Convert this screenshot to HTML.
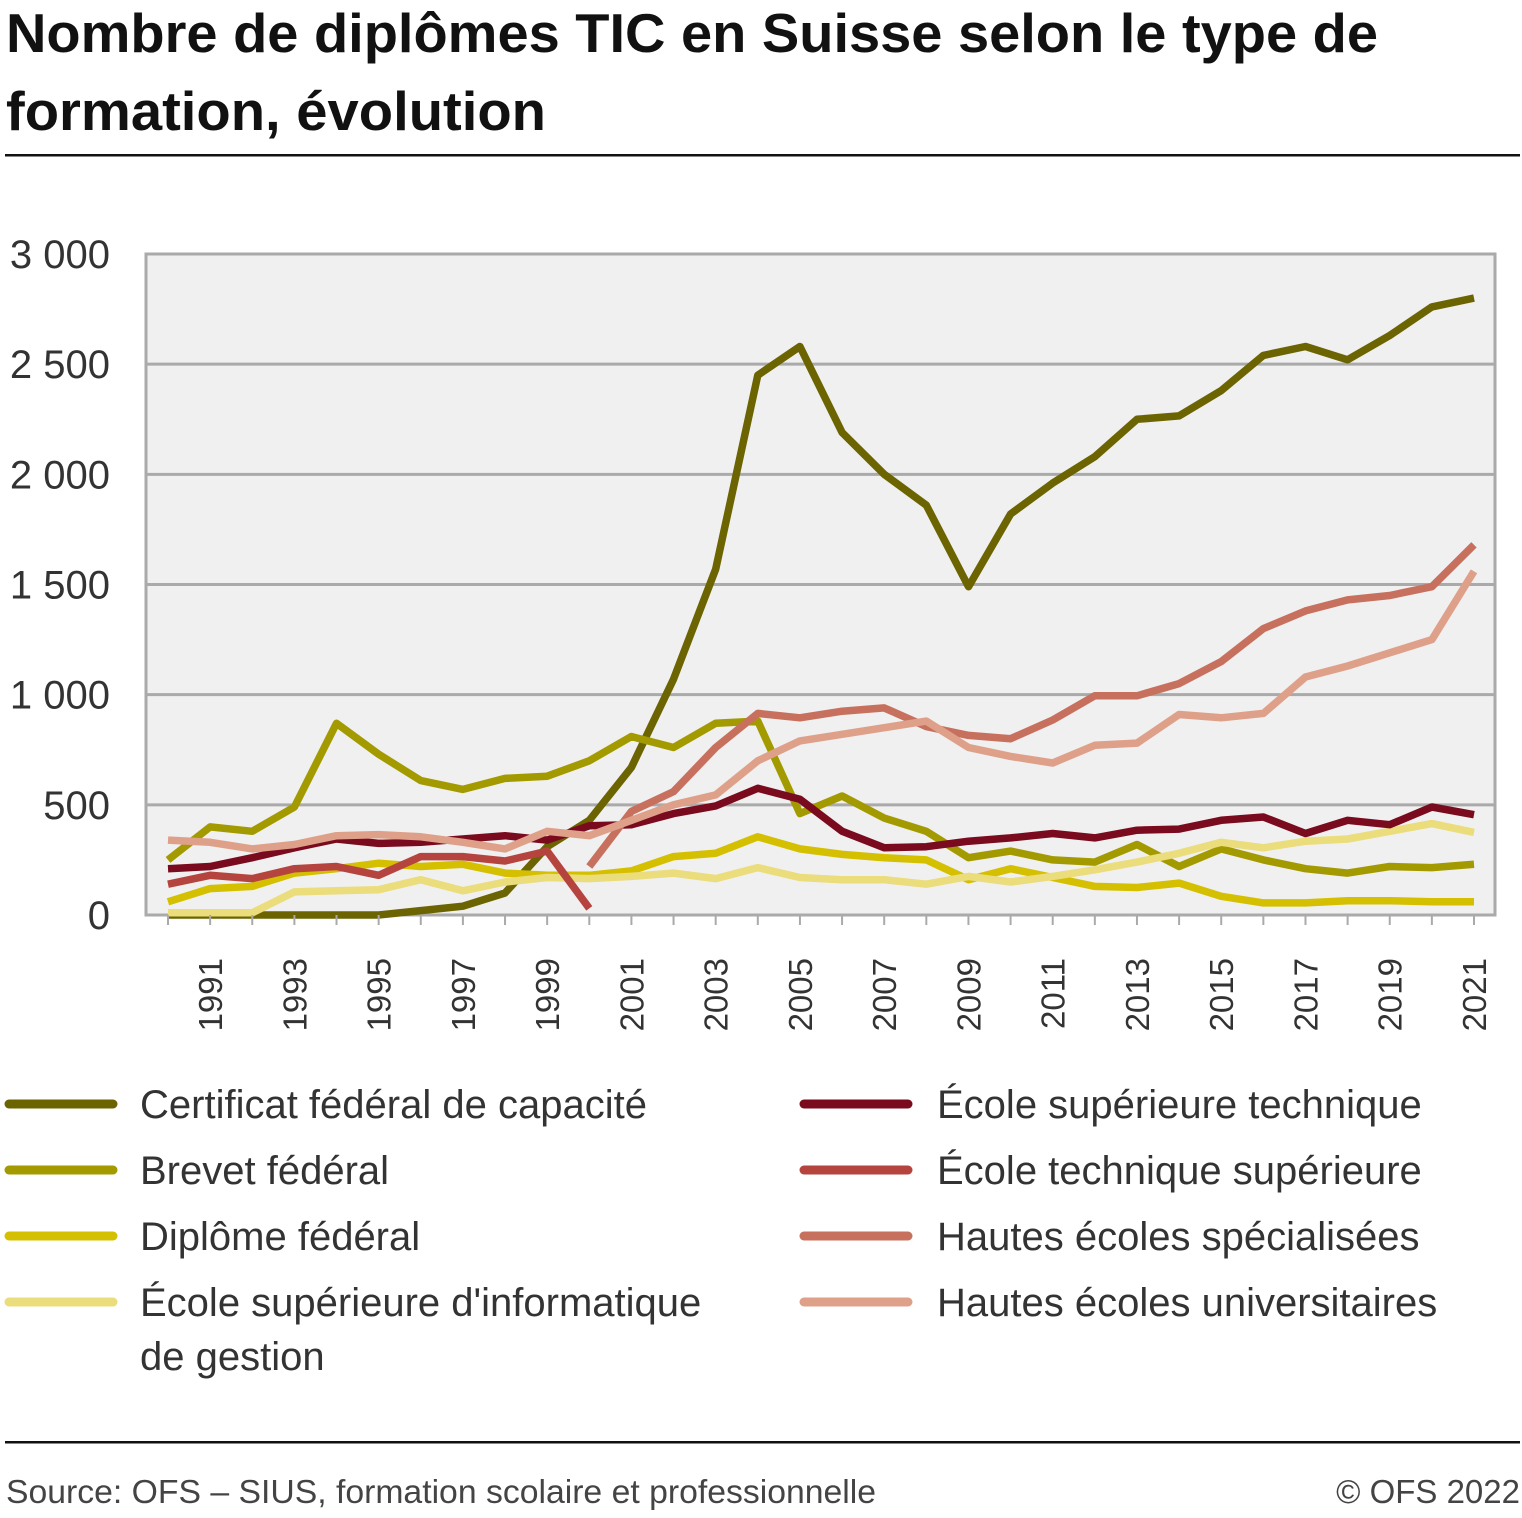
<!DOCTYPE html>
<html><head><meta charset="utf-8"><style>
body{margin:0;background:#fff;width:1522px;height:1513px;overflow:hidden;font-family:"Liberation Sans",sans-serif;}
</style></head><body>
<svg width="1522" height="1513" xmlns="http://www.w3.org/2000/svg">
<text x="6" y="52" font-size="55" font-weight="bold" fill="#111" textLength="1372" lengthAdjust="spacingAndGlyphs">Nombre de diplômes TIC en Suisse selon le type de</text>
<text x="6" y="130" font-size="55" font-weight="bold" fill="#111" textLength="540" lengthAdjust="spacingAndGlyphs">formation, évolution</text>
<rect x="5" y="154" width="1515" height="2.5" fill="#111"/>
<rect x="146" y="254" width="1349" height="661" fill="#f0f0f0" stroke="#aaa" stroke-width="3"/>
<g id="grid"></g><g id="lines"></g><g id="axes"></g>
<g id="legend"></g>
<rect x="5" y="1441" width="1515" height="2.5" fill="#111"/>
<text x="6" y="1503" font-size="33" fill="#444" textLength="870" lengthAdjust="spacingAndGlyphs">Source: OFS – SIUS, formation scolaire et professionnelle</text>
<text x="1520" y="1503" font-size="33" fill="#444" text-anchor="end">© OFS 2022</text>
</svg>
<script>
const years=[];for(let y=1990;y<=2021;y++)years.push(y);
const yTicks=[0,500,1000,1500,2000,2500,3000];
const yTickLabels=["0","500","1 000","1 500","2 000","2 500","3 000"];
const cfc=[0,0,0,0,0,0,20,40,100,310,430,670,1070,1570,2450,2580,2190,2000,1860,1490,1820,1960,2080,2250,2265,2380,2540,2580,2520,2630,2760,2800];
const brevet=[250,400,380,490,870,730,610,570,620,630,700,810,760,870,880,460,540,440,380,260,290,250,240,320,220,300,250,210,190,220,215,230];
const diplome=[60,120,130,190,210,235,220,230,190,180,180,200,265,280,355,300,275,260,250,160,210,170,130,125,145,85,55,55,65,65,60,60];
const esig=[10,10,10,105,110,115,160,110,150,170,165,175,190,165,215,170,160,160,140,175,150,175,205,240,280,330,305,335,345,380,415,375];
const est=[210,220,260,305,345,325,330,345,360,340,405,410,460,495,575,525,380,305,310,335,350,370,350,385,390,430,445,370,430,410,490,455];
const ets=[140,180,165,210,220,180,265,265,245,290,30,null,null,null,null,null,null,null,null,null,null,null,null,null,null,null,null,null,null,null,null,null];
const hes=[null,null,null,null,null,null,null,null,null,null,220,470,560,760,915,895,925,940,855,815,800,885,995,995,1050,1150,1300,1380,1430,1450,1490,1680];
const heu=[340,330,300,320,360,365,355,330,300,380,360,430,500,545,700,790,820,850,880,760,720,690,770,780,910,895,915,1080,1130,1190,1250,1560];
const seriesNames=["Certificat fédéral de capacité","Brevet fédéral","Diplôme fédéral","École supérieure d'informatique de gestion","École supérieure technique","École technique supérieure","Hautes écoles spécialisées","Hautes écoles universitaires"];
const seriesData=[cfc,brevet,diplome,esig,est,ets,hes,heu];
const colors=["#6b6400","#a39a00","#d4c000","#ebdc7c","#7a0a1e","#b5443f","#c8705e","#dfa08a"];
const NS="http://www.w3.org/2000/svg";
const X=y=>168+(y-1990)*(1474-168)/31;
const Y=v=>915-v*661/3000;
function mk(t,a,p){const e=document.createElementNS(NS,t);for(const k in a)e.setAttribute(k,a[k]);p.appendChild(e);return e;}
const grid=document.getElementById('grid'),axes=document.getElementById('axes'),lines=document.getElementById('lines'),leg=document.getElementById('legend');
yTicks.forEach((v,i)=>{
 if(v>0&&v<3000){const l=mk('line',{x1:146,x2:1495,y1:Y(v),y2:Y(v),stroke:'#aaa','stroke-width':3},grid);
 
 }
 const t=mk('text',{x:110,y:Y(v)+14,'font-size':40,fill:'#333','text-anchor':'end'},axes);t.textContent=yTickLabels[i];
 
 
});
years.forEach(y=>{
 const tk=mk('line',{x1:X(y),x2:X(y),y1:915,y2:925,stroke:'#aaa','stroke-width':2},axes);
 
 
 if(y%2===1){const t=mk('text',{x:0,y:0,'font-size':33,fill:'#333','text-anchor':'end',transform:`translate(${X(y)+12},958) rotate(-90)`},axes);t.textContent=y;
 
 }
});
seriesData.forEach((d,i)=>{
 let p='';let pen=false;
 d.forEach((v,j)=>{if(v===null){pen=false;return;}p+=(pen?'L':'M')+X(years[j]).toFixed(1)+' '+Y(v).toFixed(1)+' ';pen=true;});
 const e=mk('path',{d:p,fill:'none',stroke:colors[i],'stroke-width':7.5,'stroke-linejoin':'round'},lines);
 
 
});
const legPos=[[5,1104],[5,1170],[5,1236],[5,1302],[800,1104],[800,1170],[800,1236],[800,1302]];
seriesNames.forEach((n,i)=>{
 const [lx,ly]=legPos[i];
 const g=mk('g',{},leg);
 
 
 mk('line',{x1:lx+4,x2:lx+108,y1:ly,y2:ly,stroke:colors[i],'stroke-width':9,'stroke-linecap':'round'},g);
 const tx=lx+135;
 if(i===3){
  const t1=mk('text',{x:tx,y:ly+14,'font-size':40,fill:'#333'},g);t1.textContent="École supérieure d'informatique";
  const t2=mk('text',{x:tx,y:ly+68,'font-size':40,fill:'#333'},g);t2.textContent="de gestion";
 }else{const t=mk('text',{x:tx+(i>=4?2:0),y:ly+14,'font-size':40,fill:'#333'},g);t.textContent=n;}
});
</script>
</body></html>
